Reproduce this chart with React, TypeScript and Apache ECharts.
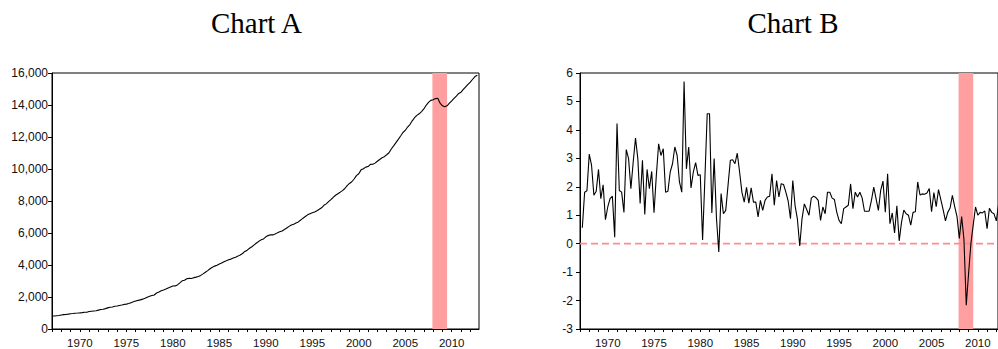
import React, { useEffect, useRef } from "react";
import * as echarts from "echarts";

// Quarterly data, first observation 1967Q1
const START_YEAR = 1967;

// Chart A: level series (1967Q1 .. 2012Q4)
const levelA = [
  812, 817, 832, 847, 874, 898, 913, 930, 954, 969,
  989, 997, 1010, 1026, 1043, 1045, 1089, 1109, 1129, 1141,
  1179, 1214, 1237, 1273, 1320, 1360, 1379, 1419, 1434, 1471,
  1499, 1537, 1554, 1591, 1647, 1698, 1755, 1787, 1820, 1866,
  1918, 1983, 2045, 2089, 2127, 2248, 2307, 2385, 2432, 2493,
  2564, 2626, 2689, 2693, 2755, 2881, 3012, 3045, 3136, 3164,
  3155, 3210, 3244, 3282, 3349, 3447, 3549, 3649, 3765, 3860,
  3930, 3987, 4066, 4124, 4205, 4266, 4328, 4369, 4435, 4487,
  4555, 4630, 4720, 4850, 4928, 5047, 5139, 5256, 5374, 5480,
  5571, 5629, 5762, 5837, 5886, 5881, 5932, 6008, 6074, 6129,
  6220, 6317, 6413, 6504, 6552, 6630, 6694, 6809, 6926, 7031,
  7134, 7208, 7262, 7307, 7392, 7482, 7577, 7731, 7821, 7957,
  8083, 8229, 8361, 8456, 8552, 8650, 8781, 8956, 9098, 9204,
  9376, 9589, 9703, 9947, 10014, 10119, 10154, 10286, 10293, 10367,
  10487, 10597, 10703, 10773, 10891, 11013, 11252, 11445, 11645, 11848,
  12059, 12283, 12410, 12624, 12778, 13012, 13204, 13353, 13451, 13590,
  13751, 13981, 14159, 14290, 14330, 14400, 14425, 14110, 13950, 13890,
  13950, 14110, 14260, 14410, 14560, 14720, 14800, 14970, 15130, 15290,
  15430, 15610, 15780, 15860,
];

// Chart B: quarterly growth (%), first observation 1967Q2
const growthB = [
  0.56, 1.81, 1.86, 3.15, 2.75, 1.70, 1.84, 2.61, 1.58, 2.07,
  0.84, 1.29, 1.58, 1.67, 0.23, 4.22, 1.87, 1.81, 1.10, 3.31,
  2.99, 1.93, 2.87, 3.71, 2.99, 1.41, 2.93, 1.03, 2.61, 1.93,
  2.54, 1.09, 2.40, 3.51, 3.10, 3.34, 1.81, 1.84, 2.52, 2.81,
  3.40, 3.10, 2.17, 1.81, 5.70, 2.63, 3.40, 1.96, 2.52, 2.85,
  2.40, 2.42, 0.13, 2.30, 4.57, 4.57, 1.08, 2.99, 0.90, -0.29,
  1.76, 1.05, 1.17, 2.05, 2.93, 2.95, 2.81, 3.18, 2.52, 1.81,
  1.46, 1.98, 1.42, 1.96, 1.46, 1.46, 0.94, 1.52, 1.17, 1.52,
  1.64, 1.67, 2.46, 1.35, 2.22, 1.64, 2.11, 2.08, 1.81, 1.50,
  0.88, 2.22, 1.33, 0.86, -0.08, 0.88, 1.40, 1.20, 1.00, 1.60,
  1.67, 1.62, 1.52, 0.82, 1.29, 1.05, 1.81, 1.81, 1.60, 1.55,
  1.11, 0.82, 0.70, 1.23, 1.29, 1.35, 2.10, 1.23, 1.81, 1.64,
  1.81, 1.60, 1.14, 1.14, 1.14, 1.52, 1.99, 1.58, 1.17, 1.87,
  2.20, 1.11, 2.46, 0.70, 1.08, 0.38, 1.33, 0.10, 0.75, 1.18,
  1.05, 1.00, 0.65, 1.10, 1.12, 2.17, 1.71, 1.75, 1.74, 1.78,
  1.94, 1.12, 1.80, 1.30, 1.90, 1.55, 1.20, 0.80, 1.10, 1.25,
  1.70, 1.30, 0.95, 0.18, 0.95, 0.15, -2.16, -1.05, 0.00, 0.65,
  1.29, 1.00, 1.10, 1.08, 1.15, 0.53, 1.24, 1.10, 1.05, 0.80,
  1.40, 0.70, 1.00,
];

const xTickYears = [
  1967, 1968, 1969, 1970, 1971, 1972, 1973, 1974, 1975, 1976, 1977, 1978,
  1979, 1980, 1981, 1982, 1983, 1984, 1985, 1986, 1987, 1988, 1989, 1990,
  1991, 1992, 1993, 1994, 1995, 1996, 1997, 1998, 1999, 2000, 2001, 2002,
  2003, 2004, 2005, 2006, 2007, 2008, 2009, 2010, 2011, 2012,
];
const xLabelYears = [1970, 1975, 1980, 1985, 1990, 1995, 2000, 2005, 2010];
const yRangeA = [0, 16000];
const yStepA = 2000;
const yRangeB = [-3, 6];
const yStepB = 1;
const recession = [2007.92, 2009.5];
const zeroLineB = 0;
const titles = ["Chart A", "Chart B"];

const LABEL_FONT = "'Liberation Sans', Arial, sans-serif";
const TITLE_FONT = "'Liberation Serif', 'Times New Roman', serif";
const BAND_COLOR = "#ff9f9f";
const ZERO_COLOR = "#ff8c8c";

export default function App() {
  const ref = useRef<HTMLDivElement>(null);

  useEffect(() => {
    if (!ref.current) return;
    const chart = echarts.init(ref.current, undefined, { renderer: "svg" });

    const dataA = levelA.map((v, i) => [START_YEAR + i / 4, v]);
    const dataB = growthB.map((v, i) => [START_YEAR + (i + 1) / 4, v]);
    const maxA = START_YEAR + 427 / 9.296;
    const maxB = START_YEAR + 420 / 9.296;

    const xAxisBase = (gridIndex: number, max: number) => ({
      gridIndex,
      type: "value",
      min: START_YEAR,
      max,
      axisLine: { show: true, onZero: false, lineStyle: { color: "#000", width: 1 } },
      axisTick: {
        show: true,
        length: 3,
        inside: false,
        customValues: xTickYears,
        lineStyle: { color: "#000", width: 1 },
      },
      axisLabel: {
        customValues: xLabelYears,
        formatter: (v: number) => String(Math.round(v)),
        fontFamily: LABEL_FONT,
        fontSize: 11.5,
        color: "#111",
        margin: 8,
      },
      splitLine: { show: false },
    });

    const titleStyle = {
      fontFamily: TITLE_FONT,
      fontSize: 29,
      fontWeight: "normal",
      color: "#000",
      lineHeight: 30,
    };

    const option: any = {
      animation: false,
      backgroundColor: "#fff",
      title: [
        { text: titles[0], left: 256.5, top: 8, textAlign: "center", padding: 0, textStyle: titleStyle },
        { text: titles[1], left: 793, top: 8, textAlign: "center", padding: 0, textStyle: titleStyle },
      ],
      grid: [
        {
          left: 52,
          top: 73,
          width: 427,
          height: 256,
          show: true,
          borderColor: "#000",
          borderWidth: 1,
          backgroundColor: "transparent",
        },
        {
          left: 580,
          top: 73,
          width: 420,
          height: 256,
          show: true,
          borderColor: "#000",
          borderWidth: 1,
          backgroundColor: "transparent",
        },
      ],
      xAxis: [xAxisBase(0, maxA), xAxisBase(1, maxB)],
      yAxis: [
        {
          gridIndex: 0,
          type: "value",
          min: yRangeA[0],
          max: yRangeA[1],
          interval: yStepA,
          axisLine: { show: true, lineStyle: { color: "#000", width: 1 } },
          axisTick: { show: true, length: 4, lineStyle: { color: "#000" } },
          axisLabel: {
            formatter: (v: number) => v.toLocaleString("en-US"),
            fontFamily: LABEL_FONT,
            fontSize: 12,
            color: "#111",
            margin: 4,
          },
          splitLine: { show: false },
        },
        {
          gridIndex: 1,
          type: "value",
          min: yRangeB[0],
          max: yRangeB[1],
          interval: yStepB,
          axisLine: { show: true, onZero: false, lineStyle: { color: "#000", width: 1 } },
          axisTick: { show: true, length: 4, lineStyle: { color: "#000" } },
          axisLabel: {
            fontFamily: LABEL_FONT,
            fontSize: 12,
            color: "#111",
            margin: 7,
          },
          splitLine: { show: false },
        },
      ],
      series: [
        {
          type: "line",
          xAxisIndex: 0,
          yAxisIndex: 0,
          data: dataA,
          showSymbol: false,
          symbol: "none",
          lineStyle: { color: "#000", width: 1.1 },
          z: 3,
          markArea: {
            silent: true,
            itemStyle: { color: BAND_COLOR, opacity: 1 },
            data: [[{ xAxis: recession[0] }, { xAxis: recession[1] }]],
          },
        },
        {
          // zero reference line (dashed, light red)
          type: "line",
          xAxisIndex: 1,
          yAxisIndex: 1,
          data: [
            [START_YEAR, zeroLineB],
            [maxB, zeroLineB],
          ],
          showSymbol: false,
          symbol: "none",
          silent: true,
          lineStyle: { color: ZERO_COLOR, width: 1.6, type: [7, 4], opacity: 1 },
          z: 2,
        },
        {
          type: "line",
          xAxisIndex: 1,
          yAxisIndex: 1,
          data: dataB,
          showSymbol: false,
          symbol: "none",
          lineStyle: { color: "#000", width: 1.1 },
          z: 3,
          markArea: {
            silent: true,
            itemStyle: { color: BAND_COLOR, opacity: 1 },
            data: [[{ xAxis: recession[0] }, { xAxis: recession[1] }]],
          },
        },
      ],
    };

    chart.setOption(option);
    return () => chart.dispose();
  }, []);

  return (
    <div
      ref={ref}
      style={{ position: "fixed", left: 0, top: 0, width: 998, height: 349, background: "#fff" }}
    />
  );
}
